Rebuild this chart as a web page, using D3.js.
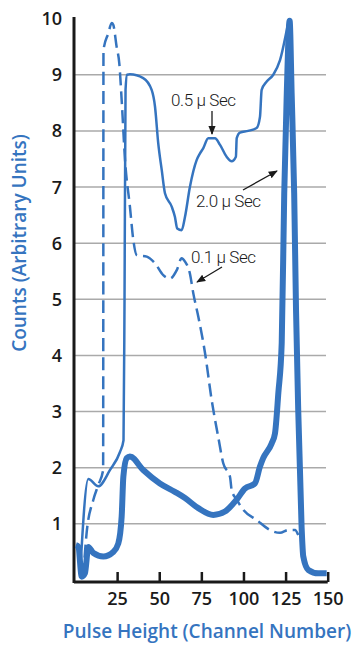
<!DOCTYPE html>
<html>
<head>
<meta charset="utf-8">
<script src="https://cdn.jsdelivr.net/npm/d3@7"></script>
<style>
  body { margin: 0; background: #fff; }
</style>
</head>
<body>
<div id="chart"></div>
<script>
// channel / counts pairs
var halfMicro = [[3,0.1],[7.9,1.8],[13.8,1.67],[20.8,1.96],[26.7,2.28],[28.8,2.49],[29.4,5.0],[30.0,8.73],[30.9,9.0],[32.6,9.01],[40.5,8.94],[45.5,8.73],[47.5,8.43],[49.4,7.78],[51.5,7.3],[53.4,6.89],[57.4,6.65],[59.3,6.47],[60.7,6.26],[63.3,6.23],[65.3,6.47],[68.2,7.0],[72.2,7.48],[74.2,7.6],[76.1,7.69],[79.1,7.87],[83.1,7.87],[86.1,7.75],[90.0,7.54],[93.0,7.46],[95.5,7.54],[96.0,7.87],[97.9,7.97],[102.8,8.0],[107.8,8.05],[109.8,8.25],[110.8,8.73],[113.8,8.88],[117.7,9.0],[121.7,9.26],[126.6,9.92],[127.2,10.0]];

var twoMicro = [[0.5,0.62],[2.0,0.59],[4.0,0.06],[5.9,0.12],[7.9,0.59],[10.9,0.48],[16.8,0.42],[22.7,0.5],[25.7,0.65],[27.7,1.13],[28.7,1.84],[30.7,2.17],[32.6,2.2],[40.5,1.96],[50.4,1.72],[59.3,1.57],[65.3,1.46],[73.2,1.28],[82.1,1.16],[89.0,1.22],[95.9,1.43],[100.9,1.63],[106.8,1.72],[109.8,2.02],[111.7,2.17],[116.7,2.43],[118.7,2.61],[120.7,3.33],[122.7,4.22],[124.2,6.89],[125.6,8.55],[127.4,9.96],[128.6,8.67],[130.1,6.89],[131.2,4.81],[132.5,3.03],[134.5,0.95],[135.5,0.42],[138.5,0.18],[144.4,0.12],[149.4,0.12]];

var tenthMicro = [[4.9,0.06],[6.9,0.84],[10.9,1.43],[13.8,1.69],[16.7,1.96],[16.8,5.0],[16.9,9.44],[19.8,9.74],[21.8,9.92],[22.7,9.89],[24.7,9.5],[26.3,9.2],[27.7,8.55],[29.7,7.48],[32.6,6.65],[34.6,6.06],[36.6,5.79],[42.6,5.76],[47.5,5.64],[52.4,5.43],[56.4,5.37],[60.4,5.52],[63.3,5.73],[65.3,5.67],[68.2,5.46],[70.2,5.11],[73.2,4.69],[77.2,4.04],[81.1,3.21],[85.0,2.55],[88.0,2.08],[92.0,1.84],[93.0,1.6],[96.0,1.43],[99.9,1.25],[107.8,1.07],[115.7,0.89],[121.7,0.84],[126.6,0.89],[130.6,0.89],[132.5,0.8]];

var xTicks = [25, 50, 75, 100, 125, 150];
var yTicks = [1, 2, 3, 4, 5, 6, 7, 8, 9, 10];
var seriesLabels = ["0.5 \u03bc Sec", "2.0 \u03bc Sec", "0.1 \u03bc Sec"];

var blue = "#3574bf";

var svg = d3.select("#chart")
    .append("svg")
    .attr("width", 355)
    .attr("height", 646);

var x = d3.scaleLinear()
    .domain([0, 150])
    .range([75, 327.7]);

var y = d3.scaleLinear()
    .domain([0, 10])
    .range([580, 18.6]);

// grid lines
svg.append("g")
    .selectAll("line")
    .data(yTicks.filter(function(d) { return d < 10; }))
    .enter()
    .append("line")
    .attr("x1", 74)
    .attr("x2", 326)
    .attr("y1", function(d) { return y(d); })
    .attr("y2", function(d) { return y(d); })
    .attr("stroke", "#aaaaaa")
    .attr("stroke-width", 1.5);

// y tick labels
svg.append("g")
    .selectAll("text")
    .data(yTicks)
    .enter()
    .append("text")
    .attr("x", 62)
    .attr("y", function(d) { return y(d); })
    .attr("dy", "0.36em")
    .attr("text-anchor", "end")
    .style("font-family", "Open Sans, sans-serif")
    .style("font-size", "18px")
    .style("font-weight", "600")
    .attr("fill", "#1a1a1a")
    .text(function(d) { return d; });

// x axis, ticks pointing up
var xAxis = svg.append("g")
    .attr("transform", "translate(0,582)")
    .call(d3.axisBottom(x).tickValues(xTicks).tickSize(-10).tickPadding(7));
xAxis.select(".domain")
    .attr("d", "M74,0H" + x(150))
    .attr("stroke", "#1a1a1a")
    .attr("stroke-width", 3);
xAxis.selectAll(".tick line")
    .attr("stroke", "#1a1a1a")
    .attr("stroke-width", 2.5);
xAxis.selectAll(".tick text")
    .attr("y", 10)
    .attr("dy", "0.71em")
    .style("font-family", "Open Sans, sans-serif")
    .style("font-size", "18px")
    .style("font-weight", "600")
    .attr("fill", "#1a1a1a");

// y axis line
svg.append("line")
    .attr("x1", 74).attr("x2", 74)
    .attr("y1", 17).attr("y2", 583)
    .attr("stroke", "#1a1a1a")
    .attr("stroke-width", 3);

var line = d3.line()
    .x(function(d) { return x(d[0]); })
    .y(function(d) { return y(d[1]); })
    .curve(d3.curveMonotoneX);

svg.append("path")
    .datum(tenthMicro)
    .attr("d", line)
    .attr("fill", "none")
    .attr("stroke", blue)
    .attr("stroke-width", 2.5)
    .attr("stroke-dasharray", "13,6");

svg.append("path")
    .datum(halfMicro)
    .attr("d", line)
    .attr("fill", "none")
    .attr("stroke", blue)
    .attr("stroke-width", 2.5);

svg.append("path")
    .datum(twoMicro)
    .attr("d", line)
    .attr("fill", "none")
    .attr("stroke", blue)
    .attr("stroke-width", 6)
    .attr("stroke-linejoin", "round");

// annotations
svg.append("defs").append("marker")
    .attr("id", "arrow")
    .attr("viewBox", "0 0 10 10")
    .attr("refX", 9).attr("refY", 5)
    .attr("markerWidth", 7).attr("markerHeight", 7)
    .attr("orient", "auto")
    .append("path")
    .attr("d", "M0,1L10,5L0,9Z")
    .attr("fill", "#1a1a1a");

var notes = [
    { text: seriesLabels[0], tx: 171, ty: 106, a: [212, 111, 212, 134] },
    { text: seriesLabels[1], tx: 196, ty: 207, a: [243, 190, 277, 171] },
    { text: seriesLabels[2], tx: 191, ty: 263, a: [222, 267, 197, 282] }
];

notes.forEach(function(n) {
    svg.append("text")
        .attr("x", n.tx)
        .attr("y", n.ty)
        .style("font-family", "Roboto, sans-serif")
        .style("font-size", "17px")
        .style("font-weight", "300")
        .style("letter-spacing", "-0.4px")
        .attr("fill", "#1a1a1a")
        .text(n.text);
    svg.append("line")
        .attr("x1", n.a[0]).attr("y1", n.a[1])
        .attr("x2", n.a[2]).attr("y2", n.a[3])
        .attr("stroke", "#1a1a1a")
        .attr("stroke-width", 1.3)
        .attr("marker-end", "url(#arrow)");
});

// axis titles
svg.append("text")
    .attr("transform", "translate(26,243) rotate(-90)")
    .attr("text-anchor", "middle")
    .style("font-family", "Open Sans, sans-serif")
    .style("font-size", "19px")
    .style("font-weight", "600")
    .attr("fill", blue)
    .text("Counts (Arbitrary Units)");

svg.append("text")
    .attr("x", 207)
    .attr("y", 638)
    .attr("text-anchor", "middle")
    .style("font-family", "Open Sans, sans-serif")
    .style("font-size", "19px")
    .style("font-weight", "600")
    .attr("fill", blue)
    .text("Pulse Height (Channel Number)");
</script>
</body>
</html>
